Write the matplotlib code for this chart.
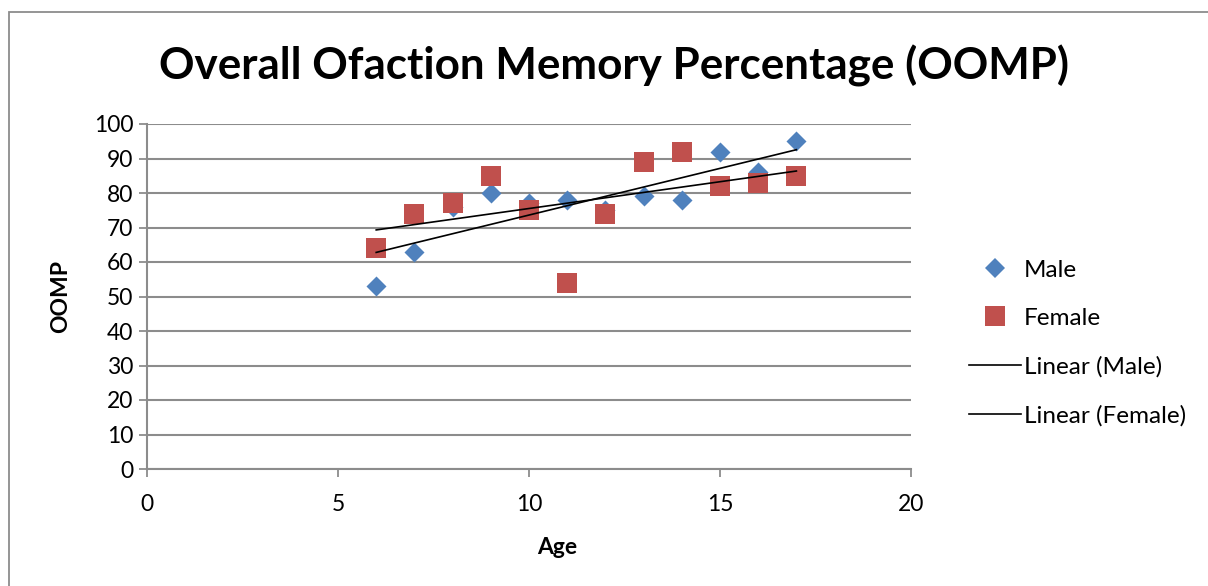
import numpy as np
import matplotlib
matplotlib.use("Agg")
import matplotlib.pyplot as plt
from matplotlib.lines import Line2D
from matplotlib.patches import Rectangle

plt.rcParams['font.family'] = ['Lato', 'DejaVu Sans']

# data
age = [6, 7, 8, 9, 10, 11, 12, 13, 14, 15, 16, 17]
male = [53, 63, 76, 80, 77, 78, 75, 79, 78, 92, 86, 95]
female = [64, 74, 77, 85, 75, 54, 74, 89, 92, 82, 83, 85]
x_ticks = [0, 5, 10, 15, 20]
y_ticks = [0, 10, 20, 30, 40, 50, 60, 70, 80, 90, 100]
title = "Overall Ofaction Memory Percentage (OOMP)"

male_col = '#4F81BD'
female_col = '#C0504D'
grid_col = '#8C8C8C'

fig = plt.figure(figsize=(12.08, 5.86), dpi=100)
W, H = 1208, 586
ax = fig.add_axes([147 / W, 1 - 469 / H, (911 - 147) / W, (469 - 124) / H])

# chart-area border (only left and top are inside the image)
fig.patches.append(Rectangle((9 / W, -0.1), 1.2, 1 - 12 / H + 0.1,
                             transform=fig.transFigure, fill=False,
                             edgecolor='#8C8C8C', lw=1.3))

ax.scatter(age, male, marker='D', s=10.2 ** 2, color=male_col, lw=0, zorder=3, label='Male')
ax.scatter(age, female, marker='s', s=14.4 ** 2, color=female_col, lw=0, zorder=3, label='Female')

# linear trendlines
xs = np.array([min(age), max(age)])
mfit = np.polyfit(age, male, 1)
ffit = np.polyfit(age, female, 1)
ax.plot(xs, np.polyval(mfit, xs), color='black', lw=1.2, zorder=4)
ax.plot(xs, np.polyval(ffit, xs), color='black', lw=1.2, zorder=4)

ax.set_xlim(0, 20)
ax.set_ylim(0, 100)
ax.set_xticks(x_ticks)
ax.set_yticks(y_ticks)
ax.yaxis.grid(True, color=grid_col, lw=1.5)
ax.set_axisbelow(True)
for s in ['top', 'right']:
    ax.spines[s].set_visible(False)
for s in ['left', 'bottom']:
    ax.spines[s].set_color(grid_col)
    ax.spines[s].set_linewidth(1.5)
ax.tick_params(axis='both', direction='out', length=6, width=1.3, color=grid_col,
               labelsize=16.5, pad=4)
ax.tick_params(axis='x', pad=12)
ax.set_xlabel('Age', fontsize=16.5, fontweight='bold')
ax.xaxis.set_label_coords((557 - 147) / 764, -(548 - 469) / 345)
ax.xaxis.label.set_va('center')
ax.set_ylabel('OOMP', fontsize=16.5, fontweight='bold', labelpad=16)

fig.text((160 + 1068) / 2 / W, 1 - 66 / H, title, fontsize=31.7, fontweight='bold',
         ha='center', va='center')

handles = [
    Line2D([], [], marker='D', color=male_col, ls='none', markersize=10.2, markeredgewidth=0),
    Line2D([], [], marker='s', color=female_col, ls='none', markersize=14.4, markeredgewidth=0),
    Line2D([], [], color='black', lw=1.2),
    Line2D([], [], color='black', lw=1.2),
]
labels = ['Male', 'Female', 'Linear (Male)', 'Linear (Female)']
fig.legend(handles, labels, loc='center left', bbox_to_anchor=(957 / W, 1 - 343 / H),
           frameon=False, fontsize=17.5, handlelength=2.15, handletextpad=0.1,
           labelspacing=1.12, borderpad=0)

fig.savefig('out.png', dpi=100)
